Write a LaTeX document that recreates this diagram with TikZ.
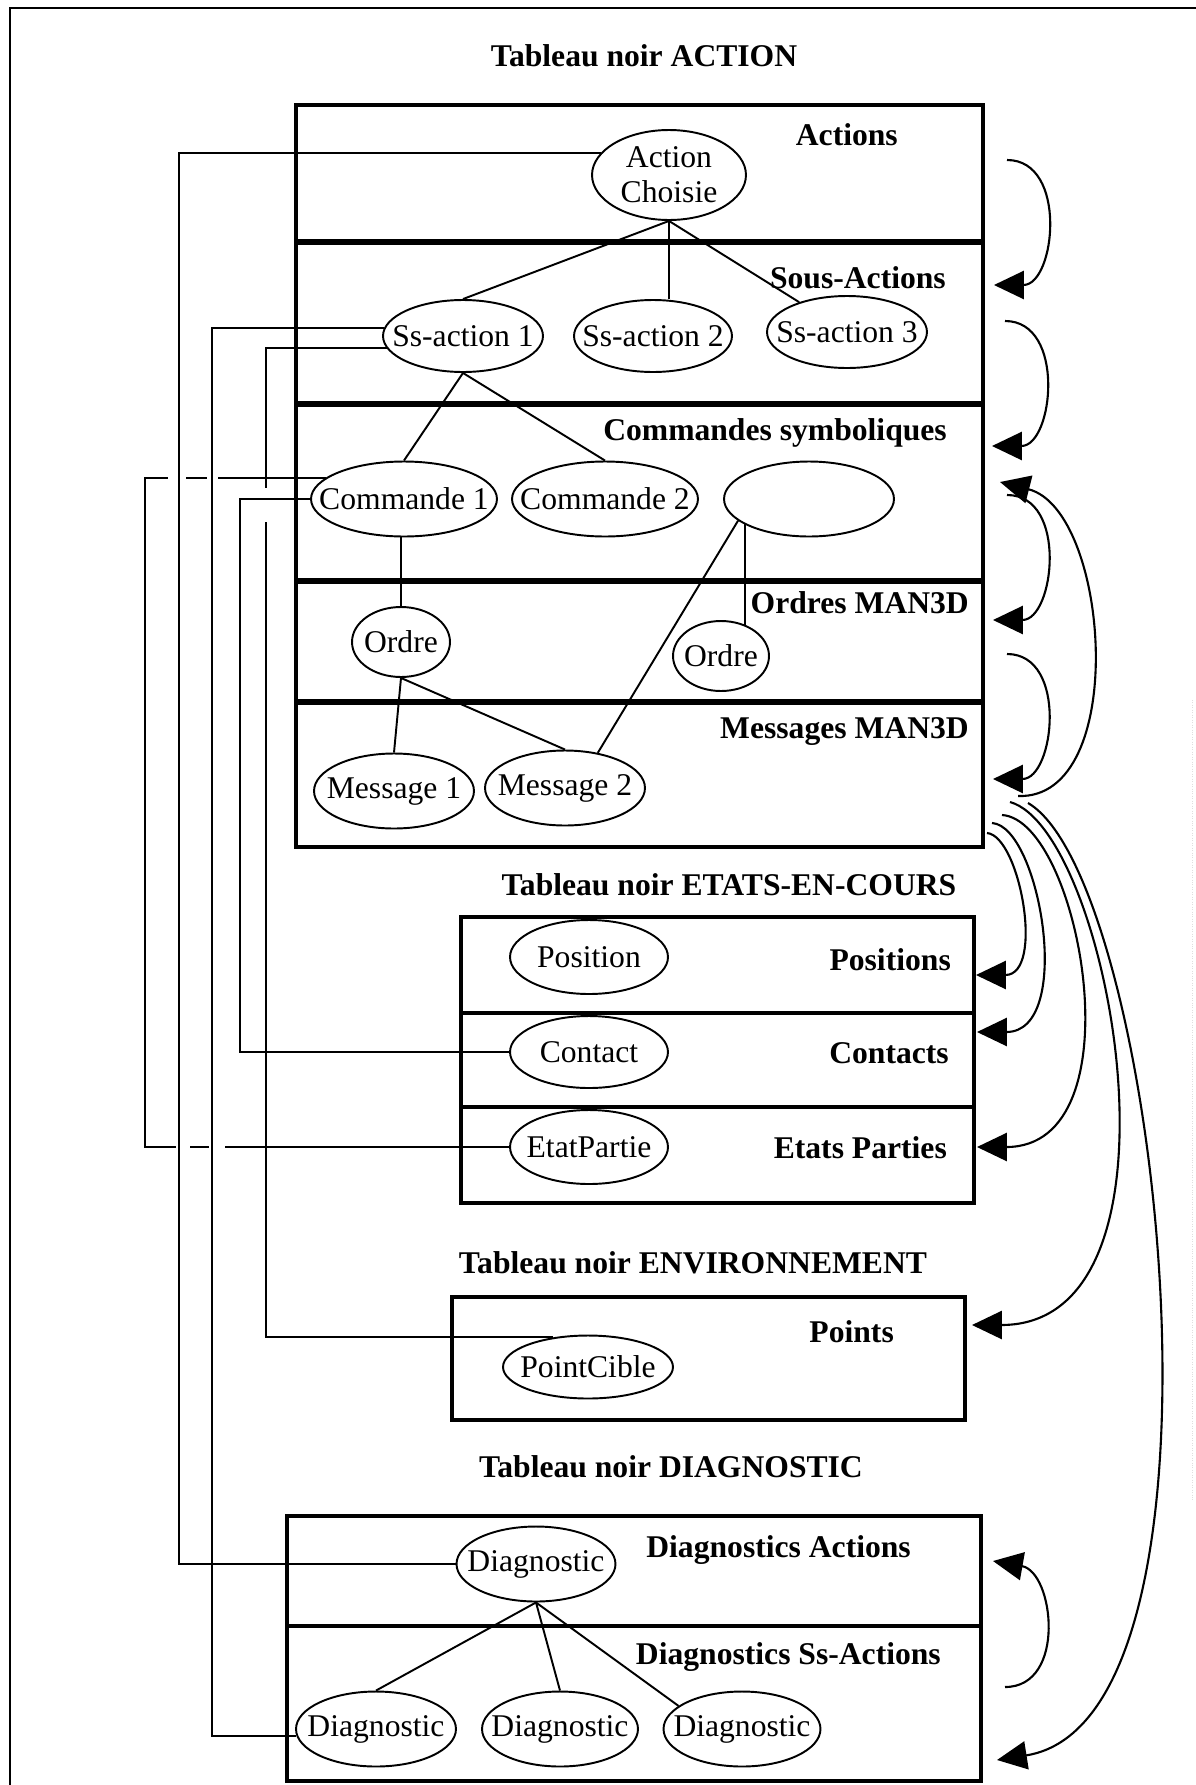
\documentclass[tikz,border=0pt]{standalone}
\usepackage{fontspec}
\setmainfont{Liberation Serif}
\usetikzlibrary{arrows.meta, shapes.geometric}

\begin{document}
\begin{tikzpicture}[
            x = 0.02cm, y = 0.02cm, % one unit per pixel of the scan
            > = {Triangle[length=17pt, width=16pt]}, % big filled arrow heads
            every node/.style = {font=\fontsize{18}{20}\selectfont},
            line join = miter
        ]

        \tikzstyle{bubble}=[
            draw = black,
            ellipse,
            line width = 1.1pt,
            inner sep = 0pt
        ]
        \tikzstyle{board}=[line width = 2.6pt]
        \tikzstyle{sep}=[line width = 3pt]
        \tikzstyle{link}=[line width = 1.1pt]
        \tikzstyle{flow}=[->, line width = 1.2pt]
        \tikzstyle{head}=[font = \fontsize{18}{20}\selectfont\bfseries]
        \tikzstyle{tag}=[anchor = east, font = \fontsize{18}{20}\selectfont\bfseries]

        \useasboundingbox (0,0) rectangle (1196,-1785);

        % page frame
        \draw[line width = 1.4pt] (10,-1800) |- (1196,-8);
        \draw[gray!25, densely dotted] (1192,-700) -- (1192,-1500);

        % Tableau noir ACTION
        \node[head] (tAction) at (644,-56) {Tableau noir ACTION};
        \draw[board] (296,-105) rectangle (983,-847);
        \foreach \y in {242,404,581,702}
            \draw[sep] (296,-\y) -- (983,-\y);
        \node[tag] (lAct) at (904,-135) {Actions};
        \node[tag] (lSous) at (952,-278) {Sous-Actions};
        \node[tag] (lCmd) at (953,-433) {Commandes symboliques};
        \node[tag] (lOrd) at (975,-603) {Ordres MAN3D};
        \node[tag] (lMsg) at (975,-732) {Messages MAN3D};

        \node[bubble, minimum width=3.08cm, minimum height=1.8cm,
              label={[align=center]center:Action\\Choisie}] (actch) at (669,-175) {};
        \node[bubble, minimum width=3.2cm, minimum height=1.44cm,
              label=center:Ss-action 1] (ssA) at (463,-336) {};
        \node[bubble, minimum width=3.16cm, minimum height=1.44cm,
              label=center:Ss-action 2] (ssB) at (653,-336) {};
        \node[bubble, minimum width=3.2cm, minimum height=1.44cm,
              label=center:Ss-action 3] (ssC) at (847,-332) {};
        \node[bubble, minimum width=3.72cm, minimum height=1.5cm,
              label=center:Commande 1] (cmdA) at (404,-499) {};
        \node[bubble, minimum width=3.72cm, minimum height=1.5cm,
              label=center:Commande 2] (cmdB) at (605,-499) {};
        \node[bubble, minimum width=3.4cm, minimum height=1.5cm] (blank) at (809,-499) {};
        \node[bubble, minimum width=1.96cm, minimum height=1.4cm,
              label=center:Ordre] (ordA) at (401,-642) {};
        \node[bubble, minimum width=1.92cm, minimum height=1.4cm,
              label=center:Ordre] (ordB) at (721,-656) {};
        \node[bubble, minimum width=3.2cm, minimum height=1.5cm,
              label=center:Message 1] (msgA) at (394,-791) {};
        \node[bubble, minimum width=3.2cm, minimum height=1.5cm,
              label=center:Message 2] (msgB) at (565,-788) {};

        \draw[link] (actch.south) -- (ssA.north);
        \draw[link] (actch.south) -- (actch.south |- ssB.north);
        \draw[link] (actch.south) -- (ssC);
        \draw[link] (ssA.south) -- (cmdA.north);
        \draw[link] (ssA.south) -- (cmdB.north);
        \draw[link] (ordA.north) -- (ordA.north |- cmdA.south);
        \draw[link] (ordA.south) -- (msgA.north);
        \draw[link] (ordA.south) -- (msgB.north);
        \draw[link] (blank.197) -- (msgB.47);
        \draw[link] (ordB.53) -- (ordB.53 |- blank.200);

        % Tableau noir ETATS-EN-COURS
        \node[head] (tEtats) at (729,-885) {Tableau noir ETATS-EN-COURS};
        \draw[board] (461,-917) rectangle (974,-1203);
        \foreach \y in {1013,1107}
            \draw[line width = 2pt] (461,-\y) -- (974,-\y);
        \node[tag] (lPos) at (957,-960) {Positions};
        \node[tag] (lCont) at (955,-1053) {Contacts};
        \node[tag] (lEtat) at (953,-1148) {Etats Parties};

        \node[bubble, minimum width=3.16cm, minimum height=1.48cm,
              label=center:Position] (pos) at (589,-957) {};
        \node[bubble, minimum width=3.16cm, minimum height=1.44cm,
              label=center:Contact] (contact) at (589,-1052) {};
        \node[bubble, minimum width=3.16cm, minimum height=1.48cm,
              label=center:EtatPartie] (etat) at (589,-1147) {};

        % Tableau noir ENVIRONNEMENT
        \node[head] (tEnv) at (693,-1263) {Tableau noir ENVIRONNEMENT};
        \draw[board] (452,-1297) rectangle (965,-1420);
        \node[tag] (lPts) at (900,-1332) {Points};
        \node[bubble, minimum width=3.4cm, minimum height=1.26cm,
              label=center:PointCible] (ptc) at (588,-1367) {};

        % Tableau noir DIAGNOSTIC
        \node[head] (tDiag) at (671,-1467) {Tableau noir DIAGNOSTIC};
        \draw[board] (287,-1516) rectangle (981,-1781);
        \draw[line width = 2.8pt] (287,-1626) -- (981,-1626);
        \node[tag] (lDgA) at (917,-1550) {Diagnostics Actions};
        \node[tag] (lDgS) at (947,-1657) {Diagnostics Ss-Actions};

        \node[bubble, minimum width=3.18cm, minimum height=1.5cm,
              label=center:Diagnostic] (diag) at (536,-1564) {};
        \node[bubble, minimum width=3.2cm, minimum height=1.5cm,
              label=center:Diagnostic] (dgA) at (376,-1729) {};
        \node[bubble, minimum width=3.12cm, minimum height=1.5cm,
              label=center:Diagnostic] (dgB) at (560,-1729) {};
        \node[bubble, minimum width=3.14cm, minimum height=1.5cm,
              label=center:Diagnostic] (dgC) at (742,-1729) {};

        \draw[link] (diag.south) -- (dgA.north);
        \draw[link] (diag.south) -- (dgB.north);
        \draw[link] (diag.south) -- (dgC.160);

        % links on the left side
        \coordinate (railA) at (145,-800);
        \coordinate (railB) at (179,-800);
        \coordinate (railC) at (212,-1000);
        \coordinate (railD) at (240,-800);
        \coordinate (hopT) at (266,-488);
        \coordinate (hopB) at (266,-522);

        \draw[link] (actch.162) -| (railB) |- (diag.west);
        \draw[link] (ssA.174) -| (railC) |- (dgA.185);
        \draw[link] (ssA.189) -| (hopT);
        \draw[link] (hopB) |- (ptc.140);
        \draw[link] (cmdA.west) -| (railD) |- (contact.west);

        \coordinate (dashT) at (cmdA.165 -| railA);
        \coordinate (dashB) at (etat.west -| railA);
        \draw[link, line cap = rect,
              dash pattern = on 12.5pt off 11.4pt on 10.8pt off 7.4pt on 400pt off 1pt]
            (dashT) -- (cmdA.165);
        \draw[link, line cap = rect] (dashT) -- (dashB);
        \draw[link, line cap = rect,
              dash pattern = on 17pt off 9.1pt on 9.7pt off 10.2pt on 400pt off 1pt]
            (dashB) -- (etat.west);

        % arrows on the right side
        \coordinate (kAct) at (1007,-160);
        \coordinate (kSousIn) at (994,-285);
        \coordinate (kSous) at (1005,-321);
        \coordinate (kCmdIn) at (992,-446);
        \coordinate (kCmdBack) at (1000,-482);
        \coordinate (kCmd) at (1007,-495);
        \coordinate (kOrdIn) at (993,-620);
        \coordinate (kOrd) at (1007,-654);
        \coordinate (kMsgIn) at (993,-779);
        \coordinate (kM1) at (1018,-796);
        \coordinate (kM2) at (987,-833);
        \coordinate (kM3) at (992,-823);
        \coordinate (kM4) at (1002,-815);
        \coordinate (kM5) at (1010,-802);
        \coordinate (kM6) at (1028,-803);
        \coordinate (kPos) at (976,-975);
        \coordinate (kCont) at (977,-1032);
        \coordinate (kEtat) at (977,-1147);
        \coordinate (kPts) at (972,-1325);
        \coordinate (kDgA) at (993,-1561);
        \coordinate (kDgS) at (1005,-1687);
        \coordinate (kDgSIn) at (997,-1760);

        \path[flow] (kAct) edge[out=0, in=0, looseness=1.25] (kSousIn);
        \path[flow] (kSous) edge[out=0, in=0, looseness=1.25] (kCmdIn);
        \path[flow] (kCmd) edge[out=0, in=0, looseness=1.25] (kOrdIn);
        \path[flow] (kOrd) edge[out=0, in=0, looseness=1.25] (kMsgIn);
        \path[flow] (kDgS) edge[out=0, in=-10, looseness=1.25] (kDgA);

        \draw[flow] (kM1) .. controls (1130,-800) and (1110,-510) .. (kCmdBack);
        \draw[flow] (kM2) .. controls (1020,-836) and (1045,-975) .. (kPos);
        \draw[flow] (kM3) .. controls (1040,-826) and (1075,-1032) .. (kCont);
        \draw[flow] (kM4) .. controls (1080,-820) and (1140,-1147) .. (kEtat);
        \draw[flow] (kM5) .. controls (1110,-830) and (1200,-1325) .. (kPts);
        \draw[flow] (kM6) .. controls (1160,-880) and (1250,-1720) .. (kDgSIn);

    \end{tikzpicture}
\end{document}
